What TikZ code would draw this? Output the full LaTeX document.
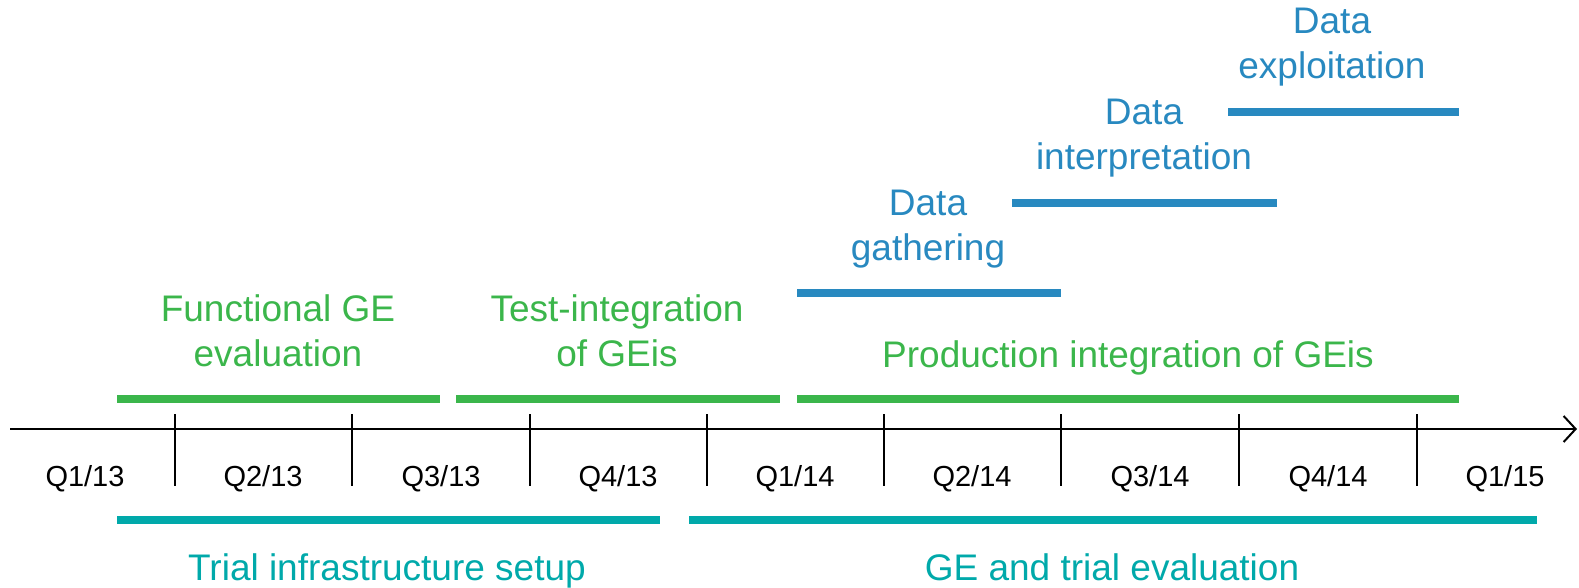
\documentclass[tikz,border=0pt]{standalone}
\usepackage{fontspec}
\setmainfont{Liberation Sans}
\usetikzlibrary{arrows.meta}
\definecolor{phasegreen}{RGB}{59,182,75}
\definecolor{trialteal}{RGB}{0,169,170}
\definecolor{datablue}{RGB}{40,137,192}
\tikzset{
  bar/.style={line width=8pt},
  phase/.style={inner sep=0pt, align=center, font=\fontsize{37}{45}\selectfont},
  quarter/.style={inner sep=0pt, anchor=base, font=\fontsize{29}{34}\selectfont}
}

\begin{document}
\begin{tikzpicture}[x=1pt, y=-1pt]
\useasboundingbox (0,0) rectangle (1579,588);
\coordinate (a0) at (10,429);
\coordinate (a1) at (1577,429);
\draw[line width=2pt, -{Straight Barb[length=12pt, width=26pt]}] (a0) -- (a1);
\foreach \x [count=\i] in {175,352,530,707,884,1061,1239,1417}{
  \coordinate (t\i a) at (\x,414);
  \coordinate (t\i b) at (\x,486);
  \draw[line width=2pt] (t\i a) -- (t\i b);
}
\node[quarter] (q1) at (85,486) {Q1/13};
\node[quarter] (q2) at (263,486) {Q2/13};
\node[quarter] (q3) at (441,486) {Q3/13};
\node[quarter] (q4) at (618,486) {Q4/13};
\node[quarter] (q5) at (795,486) {Q1/14};
\node[quarter] (q6) at (972,486) {Q2/14};
\node[quarter] (q7) at (1150,486) {Q3/14};
\node[quarter] (q8) at (1328,486) {Q4/14};
\node[quarter] (q9) at (1505,486) {Q1/15};

\coordinate (g1a) at (117,399); \coordinate (g1b) at (440,399);
\coordinate (g2a) at (456,399); \coordinate (g2b) at (780,399);
\coordinate (g3a) at (797,399); \coordinate (g3b) at (1459,399);
\draw[bar, phasegreen] (g1a) -- (g1b);
\draw[bar, phasegreen] (g2a) -- (g2b);
\draw[bar, phasegreen] (g3a) -- (g3b);
\node[phase, text=phasegreen] (func) at (278,331) {Functional GE\\evaluation};
\node[phase, text=phasegreen] (test) at (617,331) {Test-integration\\of GEis};
\node[phase, text=phasegreen, anchor=base] (prod) at (1128,367) {Production integration of GEis};

\coordinate (b1a) at (797,293); \coordinate (b1b) at (1061,293);
\coordinate (b2a) at (1012,203); \coordinate (b2b) at (1277,203);
\coordinate (b3a) at (1228,112); \coordinate (b3b) at (1459,112);
\draw[bar, datablue] (b1a) -- (b1b);
\draw[bar, datablue] (b2a) -- (b2b);
\draw[bar, datablue] (b3a) -- (b3b);
\node[phase, text=datablue] (gath) at (928,229) {Data\\gathering};
\node[phase, text=datablue] (interp) at (1144,138) {Data\\interpretation};
\node[phase, text=datablue] (expl) at (1332,47) {Data\\exploitation};

\coordinate (c1a) at (117,520); \coordinate (c1b) at (660,520);
\coordinate (c2a) at (689,520); \coordinate (c2b) at (1537,520);
\draw[bar, trialteal] (c1a) -- (c1b);
\draw[bar, trialteal] (c2a) -- (c2b);
\node[phase, text=trialteal, anchor=base] (setup) at (387,580) {Trial infrastructure setup};
\node[phase, text=trialteal, anchor=base] (eval) at (1112,580) {GE and trial evaluation};
\end{tikzpicture}
\end{document}
